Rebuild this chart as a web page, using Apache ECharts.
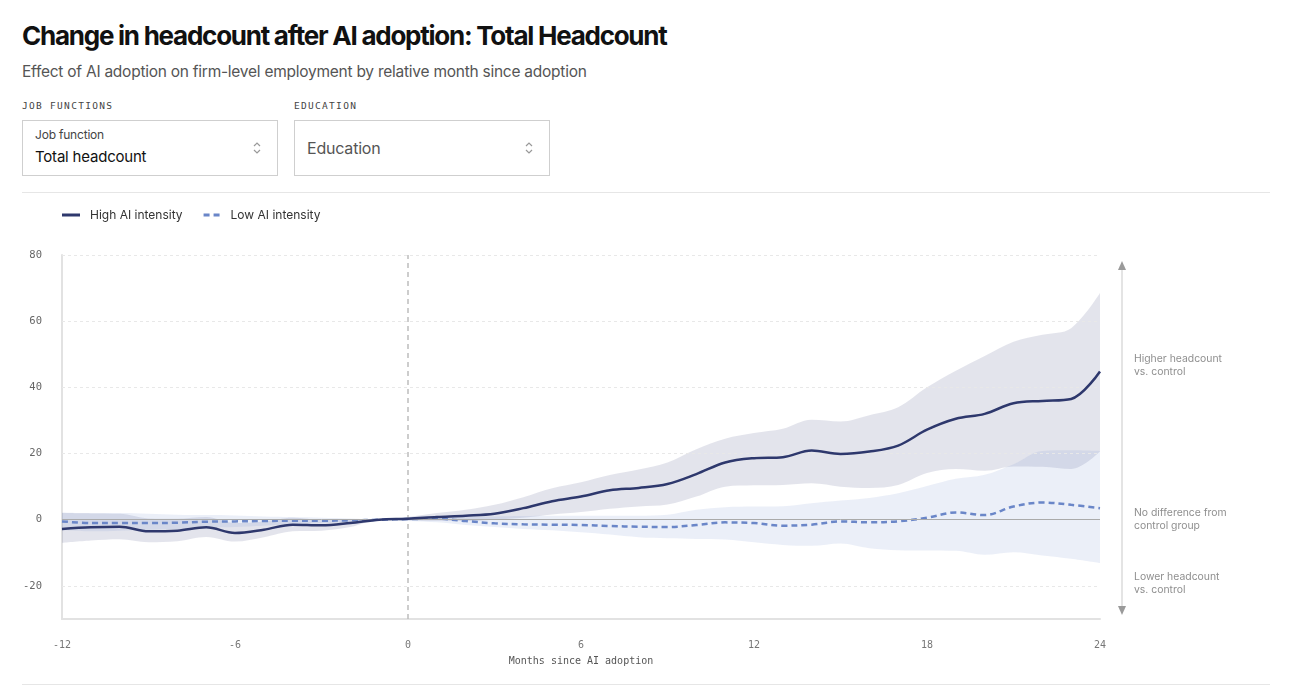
<!DOCTYPE html>
<html>
<head>
<meta charset="utf-8">
<script src="https://cdn.jsdelivr.net/npm/echarts@6/dist/echarts.min.js"></script>
<style>
  html, body { margin: 0; padding: 0; background: #fff; }
  body { width: 1308px; height: 687px; position: relative; overflow: hidden; font-family: Inter, "Noto Sans", sans-serif; }
  .abs { position: absolute; }
  #title { left: 22px; top: 20px; font-size: 26px; font-weight: 700; color: #111; letter-spacing: -1.25px; white-space: nowrap; }
  #subtitle { left: 22px; top: 62px; font-size: 15.5px; color: #555; letter-spacing: -0.25px; white-space: nowrap; }
  .lbl { top: 100px; font-family: "DejaVu Sans Mono", monospace; font-size: 9.5px; letter-spacing: 1.3px; color: #444; }
  .box { top: 120px; height: 56px; border: 1px solid #cfcfcf; box-sizing: border-box; }
  .chev { position: absolute; top: 19px; }
  .sep { left: 22px; width: 1248px; height: 1px; background: #e6e6e6; }
  #chart { left: 0; top: 193px; width: 1308px; height: 490px; }
</style>
</head>
<body>
<div id="title" class="abs">Change in headcount after AI adoption: Total Headcount</div>
<div id="subtitle" class="abs">Effect of AI adoption on firm-level employment by relative month since adoption</div>
<div class="abs lbl" style="left:22px">JOB FUNCTIONS</div>
<div class="abs lbl" style="left:294px">EDUCATION</div>
<div class="abs box" style="left:22px;width:256px">
  <div class="abs" style="left:12px;top:6px;font-size:12px;color:#444;letter-spacing:-0.2px">Job function</div>
  <div class="abs" style="left:12px;top:26px;font-size:15px;color:#111;letter-spacing:-0.2px">Total headcount</div>
  <svg class="chev" style="left:229px" width="10" height="16" viewBox="0 0 10 16"><polyline points="2,6 5,3 8,6" fill="none" stroke="#999" stroke-width="1.2"/><polyline points="2,10 5,13 8,10" fill="none" stroke="#999" stroke-width="1.2"/></svg>
</div>
<div class="abs box" style="left:294px;width:256px">
  <div class="abs" style="left:12px;top:17px;font-size:16px;color:#555;letter-spacing:-0.2px">Education</div>
  <svg class="chev" style="left:229px" width="10" height="16" viewBox="0 0 10 16"><polyline points="2,6 5,3 8,6" fill="none" stroke="#999" stroke-width="1.2"/><polyline points="2,10 5,13 8,10" fill="none" stroke="#999" stroke-width="1.2"/></svg>
</div>
<div class="abs sep" style="top:192px"></div>
<div class="abs sep" style="top:684px"></div>
<div id="chart" class="abs"></div>
<script>
// ---- data ----
const months = [-12,-11,-10,-9,-8,-7,-6,-5,-4,-3,-2,-1,0,1,2,3,4,5,6,7,8,9,10,11,12,13,14,15,16,17,18,19,20,21,22,23,24];
const highMean  = [-2.8,-2.3,-2.1,-3.5,-3.3,-2.3,-4.0,-3.0,-1.5,-1.7,-1.0,0,0.3,0.8,1.2,1.8,3.5,5.6,7.0,8.9,9.6,10.8,13.8,17.3,18.6,18.9,20.9,19.9,20.6,22.4,27.2,30.5,32.0,35.2,35.9,36.5,44.8];
const highLower = [-7.0,-6.3,-5.9,-6.8,-6.5,-5.2,-6.6,-5.3,-3.5,-3.3,-2.2,0,-0.2,-0.3,-0.4,0.0,0.6,1.6,2.3,3.3,4.0,4.6,7.0,10.0,10.4,10.5,11.0,10.0,9.6,10.5,14.1,15.3,14.8,16.1,16.0,15.3,20.6];
const highUpper = [2.0,1.9,1.8,0.4,0.3,0.8,-1.0,-0.5,0.6,0.0,0.2,0,0.8,2.0,3.0,4.5,6.8,9.5,11.3,13.5,15.2,17.3,21.3,24.5,26.2,27.5,30.2,29.7,31.6,34.0,40.0,45.0,49.5,53.8,55.9,57.9,68.5];
const lowMean   = [-0.5,-1.0,-1.0,-1.0,-0.9,-0.6,-0.5,-0.4,-0.3,-0.3,-0.2,0,0.2,0.3,-0.4,-1.1,-1.4,-1.5,-1.6,-1.9,-2.1,-2.2,-1.6,-0.8,-1.0,-1.8,-1.5,-0.5,-0.8,-0.5,0.6,2.2,1.4,4.0,5.2,4.5,3.5];
const lowLower  = [-3.2,-3.5,-3.3,-3.0,-2.8,-2.4,-2.2,-1.8,-1.4,-1.1,-0.8,0,-0.4,-0.8,-1.6,-2.2,-2.8,-3.2,-3.8,-4.5,-5.3,-5.6,-5.8,-6.0,-6.8,-7.6,-7.9,-7.2,-8.6,-9.2,-9.3,-9.4,-10.6,-9.8,-10.8,-11.8,-13.1];
const lowUpper  = [2.2,2.0,2.0,1.8,1.5,1.4,1.3,1.0,0.8,0.6,0.4,0,0.8,1.0,1.0,1.0,1.1,1.2,1.2,1.2,1.2,1.5,3.0,3.8,4.0,4.1,5.0,5.8,6.6,8.0,10.2,12.4,13.6,16.8,20.8,21.0,20.8];
const yGridTicks = [-20, 20, 40, 60, 80];
const xLabelEvery = 6;
const seriesNames = ['High AI intensity', 'Low AI intensity'];
const annotations = ['Higher headcount\nvs. control', 'No difference from\ncontrol group', 'Lower headcount\nvs. control'];
const xAxisName = 'Months since AI adoption';

// ---- build ----
const cats = months.map(String);
const diff = (lo, up) => lo.map((v, i) => +(up[i] - v).toFixed(2));
const mono = '"DejaVu Sans Mono", monospace';
const SMOOTH = 0.35;

const chart = echarts.init(document.getElementById('chart'), null, { renderer: 'canvas' });
const bandBase = (name, stack, data) => ({
  name, type: 'line', stack, stackStrategy: 'all', data, smooth: SMOOTH, symbol: 'none', silent: true,
  lineStyle: { opacity: 0, width: 0 }, z: 1
});
const bandFill = (name, stack, data, color) => ({
  name, type: 'line', stack, stackStrategy: 'all', data, smooth: SMOOTH, symbol: 'none', silent: true,
  lineStyle: { opacity: 0, width: 0 }, areaStyle: { color, opacity: 1 }, z: 1
});

chart.setOption({
  animation: false,
  textStyle: { fontFamily: 'Inter, "Noto Sans", sans-serif' },
  legend: {
    left: 62, top: 16, padding: 0, itemWidth: 18, itemHeight: 3, itemGap: 21,
    textStyle: { fontSize: 12, color: '#333', fontFamily: 'Inter, sans-serif', padding: [0, 0, 0, 5] },
    selectedMode: false,
    data: [
      { name: seriesNames[0], icon: 'path://M0,0 L18,0 L18,3 L0,3 Z', itemStyle: { color: '#2e386d' } },
      { name: seriesNames[1], icon: 'path://M0,0 L6,0 L6,3 L0,3 Z M10,0 L16,0 L16,3 L10,3 Z', itemStyle: { color: '#6a86c8' } }
    ]
  },
  grid: { left: 62, right: 208, top: 62, bottom: 64, containLabel: false },
  xAxis: {
    type: 'category', data: cats, boundaryGap: false,
    name: xAxisName, nameLocation: 'middle', nameGap: 37,
    nameTextStyle: { fontFamily: mono, fontSize: 10, color: '#555' },
    axisLine: { show: true, onZero: false, lineStyle: { color: '#e2e2e2', width: 2 } },
    axisTick: { show: false },
    axisLabel: { fontFamily: mono, fontSize: 10, color: '#777', margin: 21, interval: xLabelEvery - 1 },
    splitLine: { show: false }
  },
  yAxis: {
    type: 'value', min: -30, max: 80, interval: 10,
    axisLine: { show: true, onZero: false, lineStyle: { color: '#e2e2e2', width: 2 } },
    axisTick: { show: false },
    axisLabel: {
      fontFamily: mono, fontSize: 10.5, color: '#666', margin: 20,
      formatter: (v) => (v % 20 === 0 ? String(v) : '')
    },
    splitLine: { show: false }
  },
  series: [
    bandBase('hb', 'high', highLower),
    bandFill('hf', 'high', diff(highLower, highUpper), 'rgba(58,64,120,0.14)'),
    bandBase('lb', 'low', lowLower),
    bandFill('lf', 'low', diff(lowLower, lowUpper), 'rgba(110,145,205,0.14)'),
    {
      name: 'grid', type: 'line', data: [], silent: true, z: 0,
      markLine: {
        silent: true, symbol: 'none', label: { show: false },
        data: [
          ...yGridTicks.map(v => ({ yAxis: v, lineStyle: { color: '#e8e8e8', type: [3, 3], width: 1 } })),
          { yAxis: 0, lineStyle: { color: '#aaaaaa', type: 'solid', width: 1 } },
          { xAxis: months.indexOf(0), lineStyle: { color: '#bdbdbd', type: [5, 4], width: 1.5 } }
        ]
      }
    },
    {
      name: seriesNames[0], type: 'line', data: highMean, smooth: SMOOTH, symbol: 'none',
      lineStyle: { color: '#2e386d', width: 2.5 }, itemStyle: { color: '#2e386d' }, z: 5
    },
    {
      name: seriesNames[1], type: 'line', data: lowMean, smooth: SMOOTH, symbol: 'none',
      lineStyle: { color: '#6a86c8', width: 2.5, type: [6, 4] }, itemStyle: { color: '#6a86c8' }, z: 4
    }
  ],
  graphic: [
    { type: 'line', shape: { x1: 1122, y1: 72, x2: 1122, y2: 418 }, style: { stroke: '#e4e4e4', lineWidth: 2 }, silent: true },
    { type: 'polygon', shape: { points: [[1118, 77], [1126, 77], [1122, 68]] }, style: { fill: '#9a9a9a' }, silent: true },
    { type: 'polygon', shape: { points: [[1118, 413], [1126, 413], [1122, 422]] }, style: { fill: '#9a9a9a' }, silent: true },
    { type: 'text', left: 1134, top: 159, style: { text: annotations[0], font: '10.4px Inter, sans-serif', fill: '#8f8f8f', lineHeight: 13 }, silent: true },
    { type: 'text', left: 1134, top: 313, style: { text: annotations[1], font: '10.4px Inter, sans-serif', fill: '#8f8f8f', lineHeight: 13 }, silent: true },
    { type: 'text', left: 1134, top: 377, style: { text: annotations[2], font: '10.4px Inter, sans-serif', fill: '#8f8f8f', lineHeight: 13 }, silent: true }
  ]
});
</script>
</body>
</html>
